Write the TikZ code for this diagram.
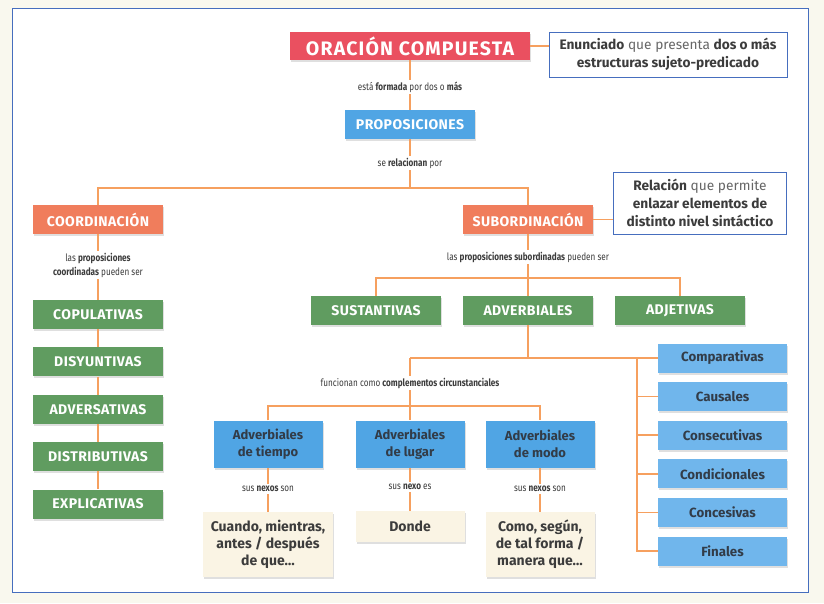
\documentclass[tikz,border=0pt]{standalone}
\usepackage{fontspec}
\setmainfont{Fira Sans}
\newfontfamily\titlefont{Fira Sans}[LetterSpace=6]
\newfontfamily\capsfont{Fira Sans}[LetterSpace=3]
\newfontfamily\labelfont{Fira Sans}[FakeStretch=0.8]
\usetikzlibrary{shadows}
\definecolor{framecol}{RGB}{70,110,190}
\definecolor{pagecol}{RGB}{249,248,238}
\definecolor{linecol}{RGB}{246,160,95}
\definecolor{redbox}{RGB}{234,80,96}
\definecolor{coralbox}{RGB}{240,125,92}
\definecolor{bluebox}{RGB}{80,165,228}
\definecolor{lightblue}{RGB}{112,182,236}
\definecolor{greenbox}{RGB}{96,156,96}
\definecolor{creambox}{RGB}{250,244,228}
\definecolor{darktext}{RGB}{50,60,72}
\definecolor{graytext}{RGB}{60,60,60}
\begin{document}
\begin{tikzpicture}[x=1pt,y=-1pt,
  box/.style={rectangle,inner sep=0pt,align=center,drop shadow={shadow xshift=1pt,shadow yshift=-2pt,opacity=.25}},
  capsbox/.style={box,text=white,minimum width=130pt,minimum height=29pt,font=\capsfont\bfseries\fontsize{14}{16}\selectfont},
  kindbox/.style={box,fill=lightblue,text=darktext,minimum width=129pt,minimum height=29pt,font=\bfseries\fontsize{13.3}{15}\selectfont},
  advbox/.style={box,fill=bluebox,text=darktext,minimum width=109pt,minimum height=47pt,font=\bfseries\fontsize{13}{17}\selectfont},
  nexobox/.style={box,fill=creambox,text=graytext,minimum width=109pt,font=\bfseries\fontsize{14}{17}\selectfont},
  defbox/.style={rectangle,draw=framecol,line width=.8pt,fill=white,text=graytext,align=center,inner sep=0pt,font=\fontsize{13.7}{18}\selectfont},
  linklabel/.style={fill=white,text=graytext,align=center,inner sep=2pt,font=\labelfont\fontsize{10.2}{14}\selectfont},
  link/.style={draw=linecol,line width=1.5pt}]
\useasboundingbox (0,0) rectangle (824,603);
\fill[pagecol] (0,0) rectangle (824,603);
\draw[framecol,line width=1pt,fill=white] (12,8) rectangle (808,592);

\node[box,fill=redbox,text=white,minimum width=240pt,minimum height=28pt,font=\titlefont\bfseries\fontsize{19.5}{21}\selectfont] (oracion) at (410,46) {ORACIÓN COMPUESTA};
\node[defbox,minimum width=238pt,minimum height=45pt] (def) at (668,54.5) {\textbf{Enunciado} \textcolor{black!60}{que presenta} \textbf{dos o más}\\\textbf{estructuras sujeto-predicado}};
\node[capsbox,fill=bluebox] (prop) at (410,124.5) {PROPOSICIONES};
\node[capsbox,fill=coralbox] (coord) at (98,219.5) {COORDINACIÓN};
\node[capsbox,fill=coralbox] (subord) at (528,219.5) {SUBORDINACIÓN};
\node[defbox,minimum width=173pt,minimum height=62pt] (rel) at (700,203) {\textbf{Relación} \textcolor{black!60}{que permite}\\\textbf{enlazar elementos de}\\\textbf{distinto nivel sintáctico}};

\node[capsbox,fill=greenbox] (copul) at (98,314.5) {COPULATIVAS};
\node[capsbox,fill=greenbox] (disy) at (98,361.9) {DISYUNTIVAS};
\node[capsbox,fill=greenbox] (advers) at (98,409.3) {ADVERSATIVAS};
\node[capsbox,fill=greenbox] (distrib) at (98,456.7) {DISTRIBUTIVAS};
\node[capsbox,fill=greenbox] (explic) at (98,504.1) {EXPLICATIVAS};

\node[capsbox,fill=greenbox] (sust) at (376,310.5) {SUSTANTIVAS};
\node[capsbox,fill=greenbox] (adverb) at (528,310.5) {ADVERBIALES};
\node[capsbox,fill=greenbox] (adj) at (680,310.5) {ADJETIVAS};

\node[kindbox] (comp) at (722.5,358) {Comparativas};
\node[kindbox] (caus) at (722.5,396.6) {Causales};
\node[kindbox] (conse) at (722.5,435.2) {Consecutivas};
\node[kindbox] (condi) at (722.5,473.8) {Condicionales};
\node[kindbox] (conce) at (722.5,512.4) {Concesivas};
\node[kindbox] (fin) at (722.5,551) {Finales};

\node[advbox] (tiempo) at (268,444) {Adverbiales\\de tiempo};
\node[advbox] (lugar) at (410,444) {Adverbiales\\de lugar};
\node[advbox] (modo) at (540,444) {Adverbiales\\de modo};

\node[nexobox,minimum width=130pt,minimum height=65pt] (cuando) at (268,544.5) {Cuando, mientras,\\antes / después\\de que…};
\node[nexobox,minimum height=31pt] (donde) at (410,526.5) {Donde};
\node[nexobox,minimum height=65pt] (como) at (540,544.5) {Como, según,\\de tal forma /\\manera que…};

\coordinate (split1) at (410,188);
\coordinate (split2) at (528,278);
\coordinate (split3) at (410,358);
\coordinate (bus) at (637,358);
\coordinate (split4) at (410,406);

\draw[link] (oracion.east) -- (oracion.east -| def.west);
\draw[link] (oracion.south) -- (prop.north);
\draw[link] (prop.south) -- (split1);
\draw[link] (coord.north) |- (split1) -| (subord.north);
\draw[link] (subord.east) -- (subord.east -| rel.west);
\draw[link] (coord.south) -- (copul.north);
\draw[link] (copul.south) -- (disy.north);
\draw[link] (disy.south) -- (advers.north);
\draw[link] (advers.south) -- (distrib.north);
\draw[link] (distrib.south) -- (explic.north);
\draw[link] (subord.south) -- (adverb.north);
\draw[link] (sust.north) |- (split2) -| (adj.north);
\draw[link] (adverb.south) |- (split3);
\draw[link] (split3) -- (comp.west);
\draw[link] (bus) |- (fin.west);
\draw[link] (bus |- caus.west) -- (caus.west);
\draw[link] (bus |- conse.west) -- (conse.west);
\draw[link] (bus |- condi.west) -- (condi.west);
\draw[link] (bus |- conce.west) -- (conce.west);
\draw[link] (split3) -- (lugar.north);
\draw[link] (tiempo.north) |- (split4) -| (modo.north);
\draw[link] (tiempo.south) -- (cuando.north);
\draw[link] (lugar.south) -- (donde.north);
\draw[link] (modo.south) -- (como.north);

\node[linklabel] (lab1) at (410,87) {está \textbf{formada} por dos o \textbf{más}};
\node[linklabel] (lab2) at (410,163) {se \textbf{relacionan} por};
\node[linklabel] (lab3) at (98,265) {las \textbf{proposiciones}\\\textbf{coordinadas} pueden ser};
\node[linklabel] (lab4) at (528,257) {las \textbf{proposiciones subordinadas} pueden ser};
\node[linklabel] (lab5) at (410,383) {funcionan como \textbf{complementos circunstanciales}};
\node[linklabel] (lab6) at (268,489) {sus \textbf{nexos} son};
\node[linklabel] (lab7) at (410,487) {sus \textbf{nexo} es};
\node[linklabel] (lab8) at (540,489) {sus \textbf{nexos} son};
\end{tikzpicture}
\end{document}
